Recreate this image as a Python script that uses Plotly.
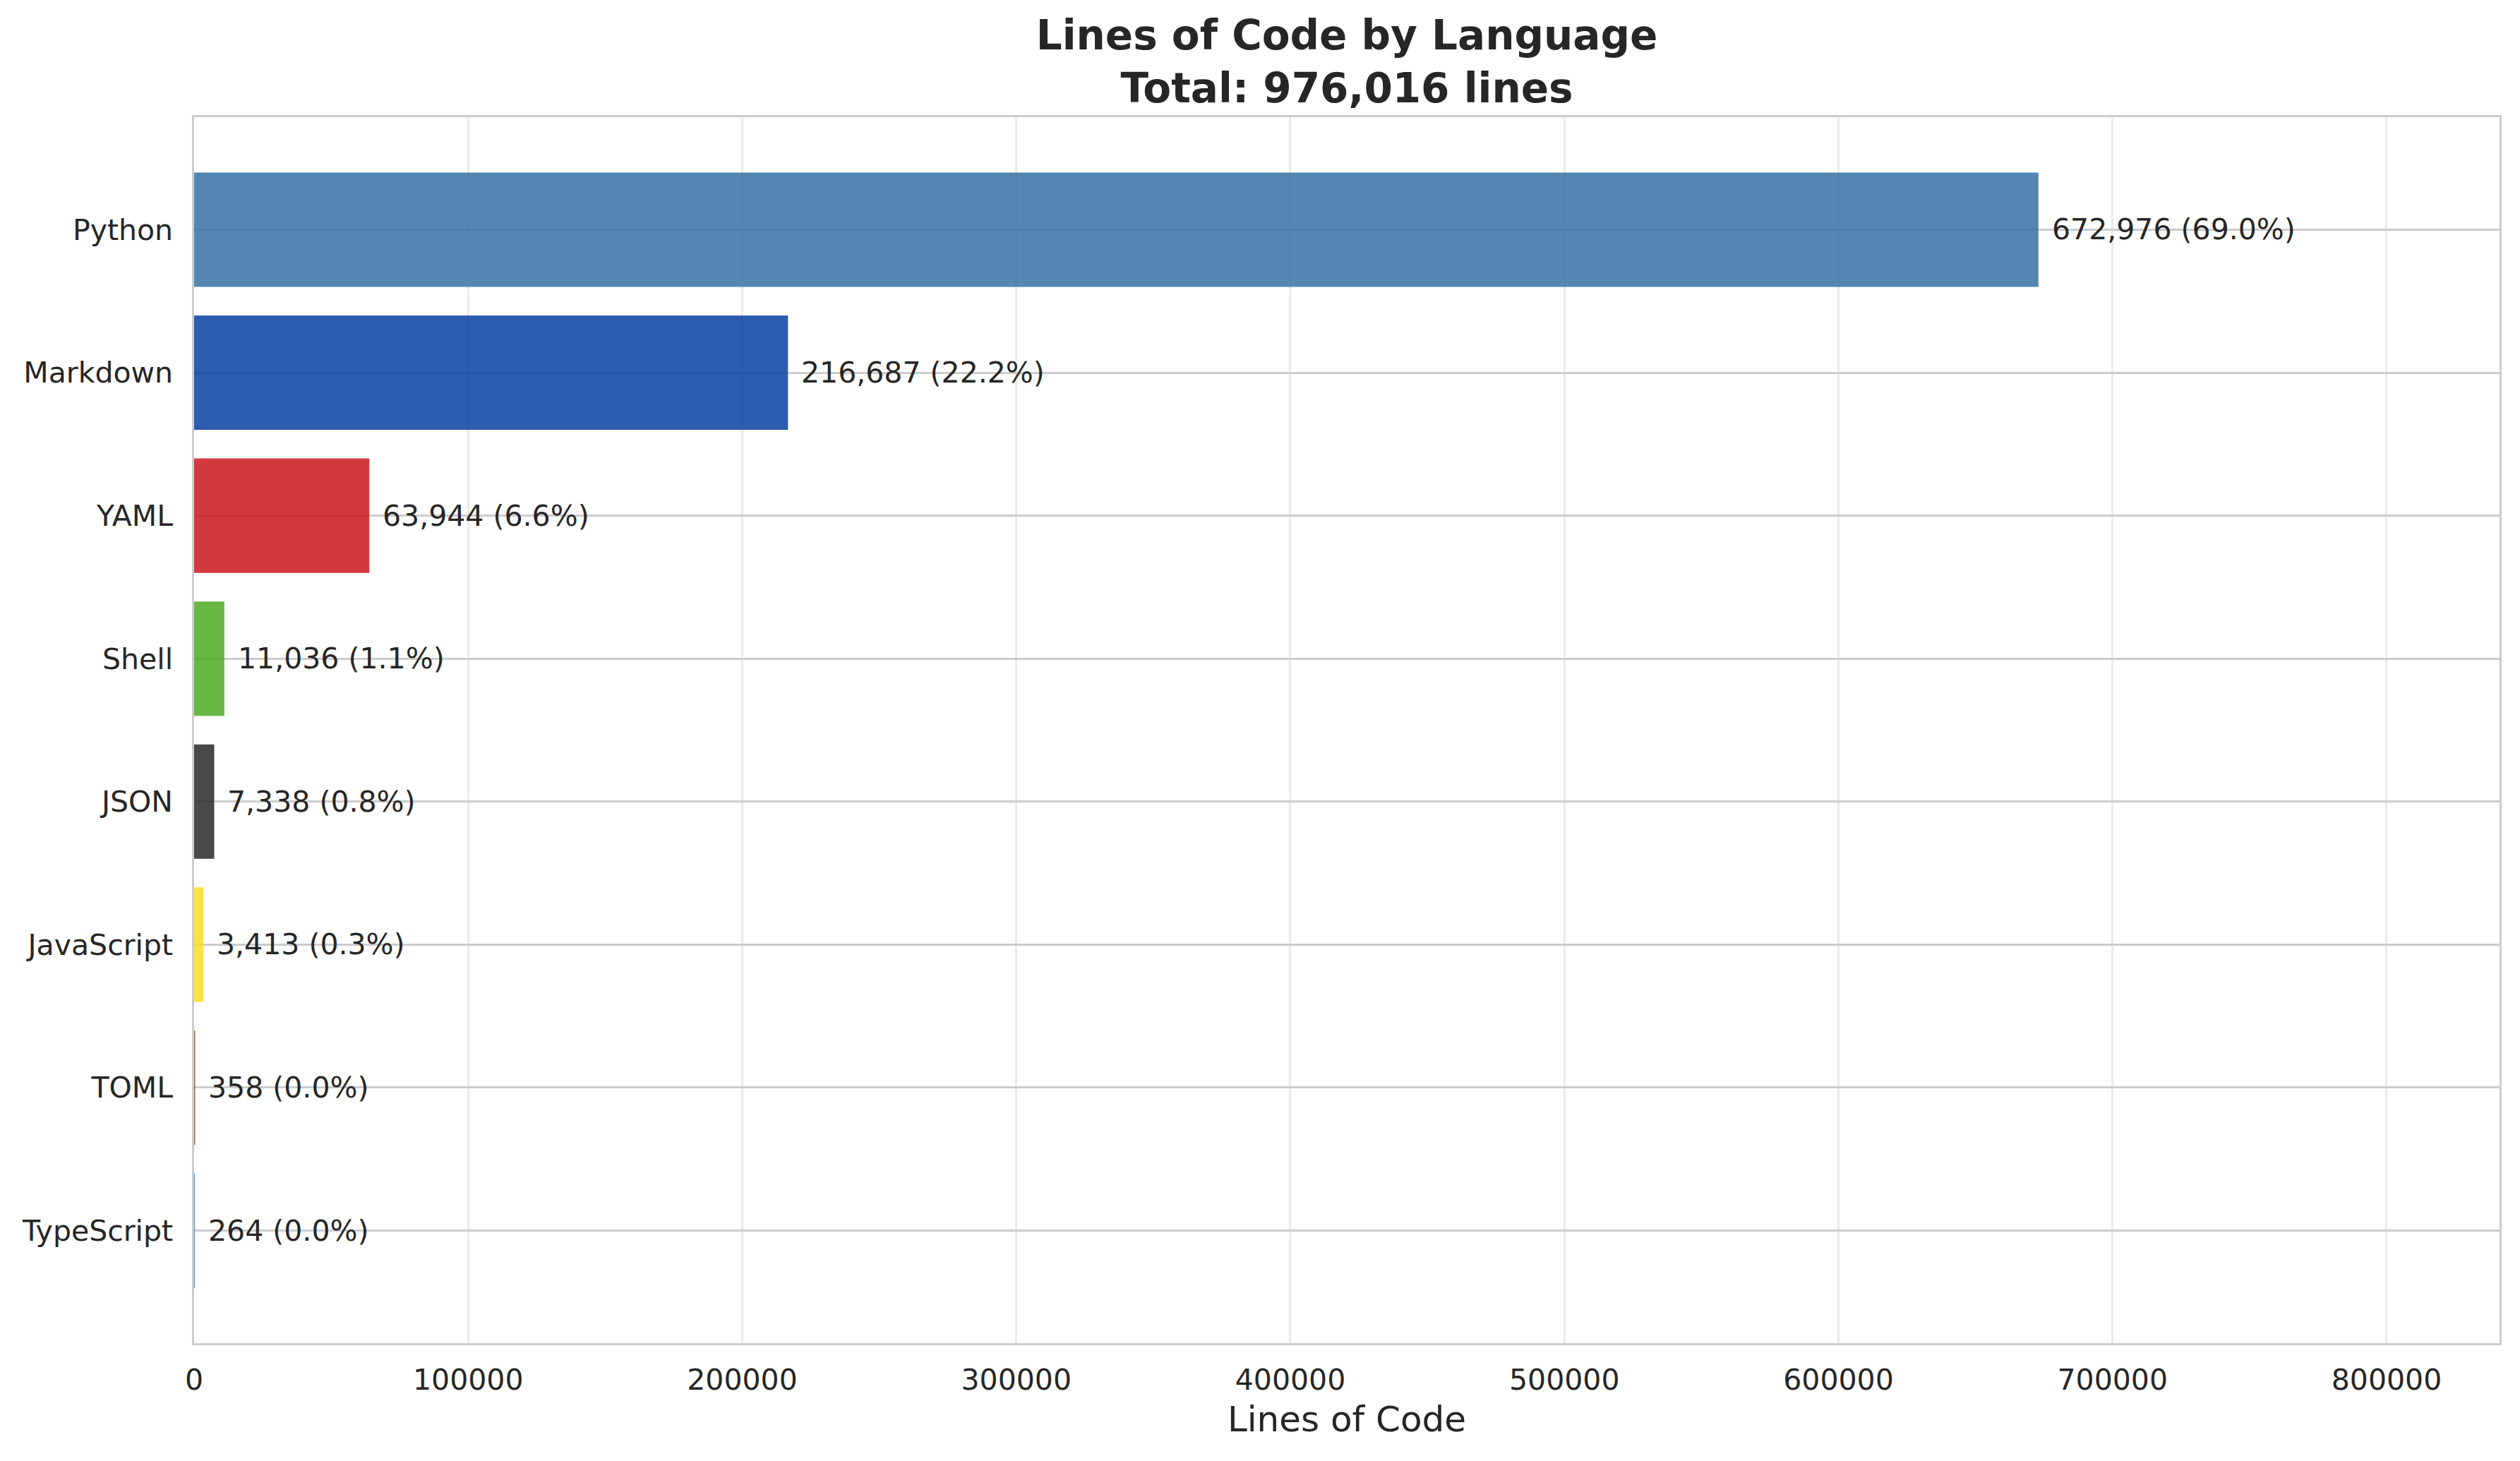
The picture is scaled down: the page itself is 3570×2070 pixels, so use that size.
import plotly.graph_objects as go

languages = ["Python", "Markdown", "YAML", "Shell", "JSON", "JavaScript", "TOML", "TypeScript"]
lines = [672976, 216687, 63944, 11036, 7338, 3413, 358, 264]
colors = ["#3572A5", "#083FA1", "#CB171E", "#4EAA25", "#292929", "#F7DF1E", "#9C4221", "#3178C6"]
x_ticks = [0, 100000, 200000, 300000, 400000, 500000, 600000, 700000, 800000]

total = sum(lines)
FONT = "DejaVu Sans"
TXT = "#262626"

def rgba(h, a):
    h = h.lstrip("#")
    return f"rgba({int(h[0:2],16)},{int(h[2:4],16)},{int(h[4:6],16)},{a})"

fig = go.Figure()
fig.add_trace(go.Bar(
    y=languages, x=lines, orientation="h", width=0.8,
    marker=dict(color=[rgba(c, 0.85) for c in colors],
                line=dict(color="rgba(255,255,255,0)", width=0)),
    hoverinfo="skip", showlegend=False,
))

for lang, v in zip(languages, lines):
    fig.add_annotation(
        x=v, y=lang, xref="x", yref="y",
        text=f"{v:,} ({v / total * 100:.1f}%)",
        showarrow=False, xanchor="left", yanchor="middle", xshift=17,
        font=dict(family=FONT, size=41, color=TXT),
    )

fig.update_layout(
    width=3570, height=2070,
    margin=dict(l=267, r=37, t=158, b=175),
    paper_bgcolor="white", plot_bgcolor="white",
    font=dict(family=FONT, size=41, color=TXT),
    title=dict(
        text=f"<b>Lines of Code by Language<br>Total: {total:,} lines</b>",
        x=0.5, xanchor="center", xref="paper",
        y=1 - 62 / 2070, yanchor="middle", yref="container",
        font=dict(family=FONT, size=58, color=TXT),
    ),
    bargap=0.2,
)

fig.update_xaxes(
    range=[0, max(lines) * 1.25],
    tickvals=x_ticks, ticktext=[str(t) for t in x_ticks],
    showgrid=True, gridcolor="#ebebeb", gridwidth=2.5,
    zeroline=False, showline=True, linecolor="#cccccc", linewidth=2.5, mirror=True,
    ticks="", ticklabelstandoff=14,
    tickfont=dict(family=FONT, size=41, color=TXT),
    title=dict(text="Lines of Code", font=dict(family=FONT, size=50, color=TXT), standoff=16),
)
fig.update_yaxes(
    categoryorder="array", categoryarray=languages,
    range=[len(languages) - 1 + 0.787, -0.787],
    showgrid=True, gridcolor="#cccccc", gridwidth=3,
    zeroline=False, showline=True, linecolor="#cccccc", linewidth=2.5, mirror=True,
    ticks="", ticklabelstandoff=19,
    tickfont=dict(family=FONT, size=41, color=TXT),
)

fig.write_html("out.html")
